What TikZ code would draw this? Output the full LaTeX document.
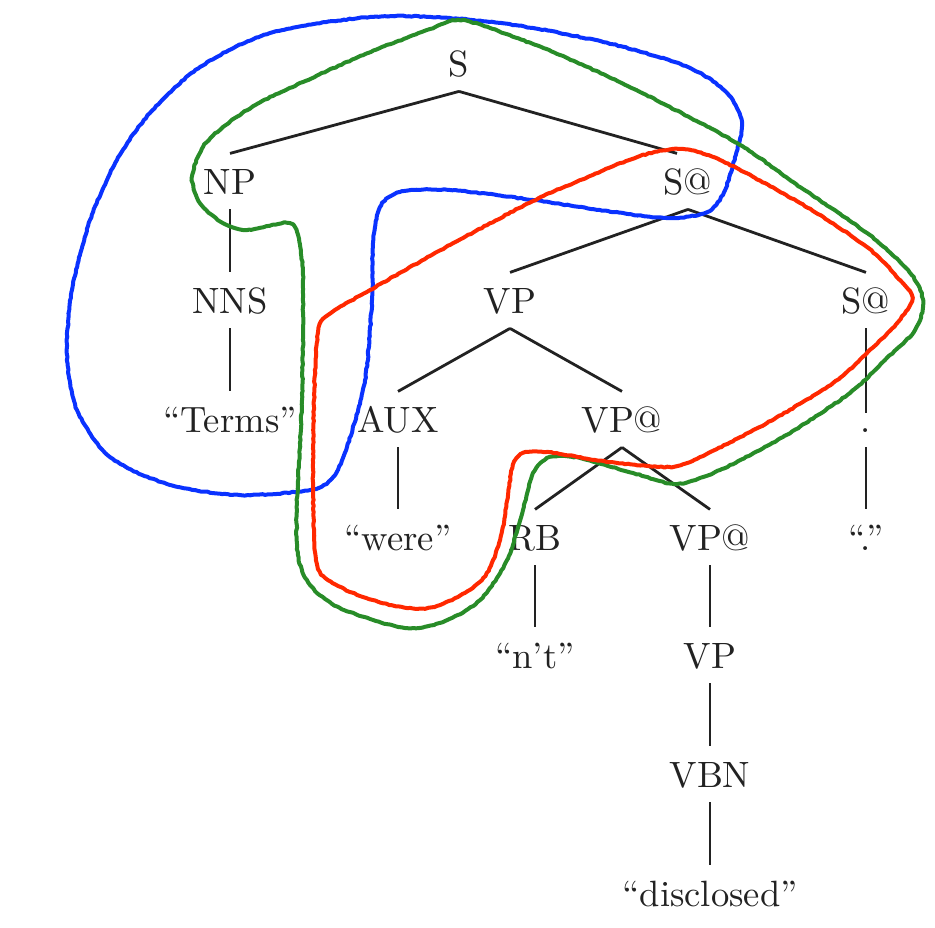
\documentclass[tikz,border=0pt]{standalone}
\usepackage{fontspec}
\usepackage{graphicx}
\usetikzlibrary{decorations.pathmorphing}
\definecolor{cblue}{RGB}{10,50,255}
\definecolor{cred}{RGB}{255,40,0}
\definecolor{cgreen}{RGB}{40,140,40}
\definecolor{ink}{RGB}{34,34,34}
\newcommand\tlab[1]{\scalebox{1.83}{#1}}
\begin{document}
\begin{tikzpicture}[x=0.5pt,y=-0.5pt,
  tn/.style={anchor=base,font=\fontsize{10}{12}\selectfont,text=ink,
    inner ysep=7.5pt,inner xsep=2pt,text height=12.6pt,text depth=0pt},
  edge/.style={draw=ink,line width=1.4pt},
  blob/.style={line width=2pt,line join=round,decorate,
    decoration={random steps,segment length=1.5pt,amplitude=0.25pt}}]
\useasboundingbox (0,0) rectangle (935,927);
% nodes
\node[tn] (S) at (459,76) {\tlab{S}};
\node[tn] (NP) at (230,194) {\tlab{NP}};
\node[tn] (Sa) at (688,194) {\tlab{S@}};
\node[tn] (NNS) at (230,313) {\tlab{NNS}};
\node[tn] (VP) at (510,313) {\tlab{VP}};
\node[tn] (Sb) at (866,313) {\tlab{S@}};
\node[tn] (Terms) at (230,432) {\tlab{``Terms''}};
\node[tn] (AUX) at (398,432) {\tlab{AUX}};
\node[tn] (VPa) at (622,432) {\tlab{VP@}};
\node[tn,text height=2pt] (dot) at (866,432) {\tlab{.}};
\node[tn] (were) at (398,550) {\tlab{``were''}};
\node[tn] (RB) at (535,550) {\tlab{RB}};
\node[tn] (VPb) at (710,550) {\tlab{VP@}};
\node[tn] (dotq) at (866,550) {\tlab{``.''}};
\node[tn] (nt) at (535,668) {\tlab{``n't''}};
\node[tn] (VPc) at (710,668) {\tlab{VP}};
\node[tn] (VBN) at (710,787) {\tlab{VBN}};
\node[tn] (disc) at (710,906) {\tlab{``disclosed''}};
% edges
\draw[edge] (S.south) -- (NP.north);
\draw[edge] (S.south) -- ([xshift=-5.5pt]Sa.north);
\draw[edge] (NP.south) -- (NNS.north);
\draw[edge] (NNS.south) -- (Terms.north);
\draw[edge] (Sa.south) -- (VP.north);
\draw[edge] (Sa.south) -- (Sb.north);
\draw[edge] (VP.south) -- (AUX.north);
\draw[edge] (VP.south) -- (VPa.north);
\draw[edge] (Sb.south) -- (dot.north);
\draw[edge] (dot.south) -- (dotq.north);
\draw[edge] (AUX.south) -- (were.north);
\draw[edge] (VPa.south) -- (RB.north);
\draw[edge] (VPa.south) -- (VPb.north);
\draw[edge] (RB.south) -- (nt.north);
\draw[edge] (VPb.south) -- (VPc.north);
\draw[edge] (VPc.south) -- (VBN.north);
\draw[edge] (VBN.south) -- (disc.north);
% blobs
\draw[blob,cblue] plot[smooth cycle,tension=0.5] coordinates {
 (450,18) (533,28) (620,46) (690,68) (727,93) (742,123) (735,157)
 (724,192) (707,212) (667,218) (600,210) (533,200) (450,190) (400,192)
 (380,207) (373,243) (372,300) (365,380) (347,447) (333,477) (310,490)
 (240,495) (170,485) (110,457) (77,410) (67,355) (72,290) (90,220)
 (117,160) (150,113) (200,67) (270,33) (370,17)};
\draw[blob,cgreen] plot[smooth cycle,tension=0.5] coordinates {
 (458,20) (490,28) (560,55) (640,92) (737,143) (800,187) (867,233)
 (908,270) (923,300) (915,330) (885,360) (850,393) (783,437) (720,470)
 (677,484) (633,473) (580,458) (550,457) (533,473) (523,510) (507,560)
 (480,600) (445,621) (405,628) (340,608) (310,585) (298,555) (297,503)
 (302,400) (303,280) (298,235) (287,223) (247,230) (223,223) (200,203)
 (192,177) (203,147) (223,127) (257,104) (303,82) (368,53) (430,29)};
\draw[blob,cred] plot[smooth cycle,tension=0.5] coordinates {
 (680,149) (720,160) (800,203) (867,247) (900,280) (912,298) (898,322)
 (867,353) (833,383) (767,423) (700,457) (670,467) (610,462) (547,452)
 (523,453) (513,465) (508,495) (500,540) (482,580) (440,605) (407,608)
 (363,597) (328,580) (316,560) (313,487) (314,400) (318,333) (328,315)
 (370,290) (450,245) (533,201) (590,176) (640,156)};
\end{tikzpicture}
\end{document}
